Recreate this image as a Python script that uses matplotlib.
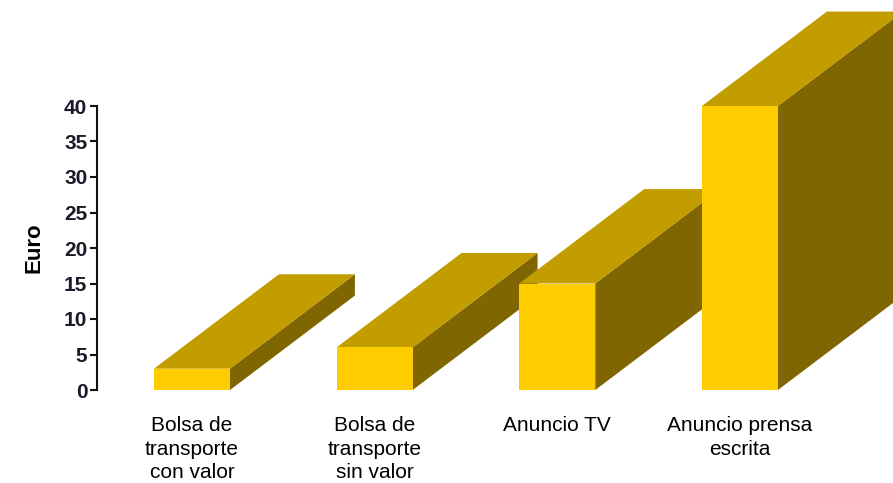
import matplotlib
matplotlib.use("Agg")
import matplotlib.pyplot as plt
from matplotlib.patches import Polygon

categories = ["Bolsa de\ntransporte\ncon valor", "Bolsa de\ntransporte\nsin valor",
              "Anuncio TV", "Anuncio prensa\nescrita"]
values = [3, 6, 15, 40]
yticks = [0, 5, 10, 15, 20, 25, 30, 35, 40]

FRONT = "#FFCC00"
TOP = "#C29D00"
SIDE = "#806600"

plt.rcParams['font.family'] = ['Liberation Sans', 'DejaVu Sans']

fig = plt.figure(figsize=(8.93, 4.83), dpi=100)
ax = fig.add_axes([97/893, 93/483, 796/893, 284/483])
ax.set_xlim(-0.52, 3.838)
ax.set_ylim(0, 40)

width = 0.416
dx = 0.684
dy = 13.3

for i, v in enumerate(values):
    x0 = i - width/2
    x1 = i + width/2
    side = Polygon([(x1, 0), (x1, v), (x1+dx, v+dy), (x1+dx, dy)], closed=True,
                   facecolor=SIDE, edgecolor='none', clip_on=False, zorder=2+i*3)
    top = Polygon([(x0, v), (x1, v), (x1+dx, v+dy), (x0+dx, v+dy)], closed=True,
                  facecolor=TOP, edgecolor='none', clip_on=False, zorder=2+i*3+1)
    ax.add_patch(side)
    ax.add_patch(top)
    ax.bar(i, v, width=width, color=FRONT, edgecolor='none', clip_on=False, zorder=2+i*3+2)

for s in ['top', 'right', 'bottom']:
    ax.spines[s].set_visible(False)
ax.spines['left'].set_bounds(0, 40)
ax.spines['left'].set_linewidth(1.5)
ax.spines['left'].set_color('#111111')

ax.set_yticks(yticks)
ax.set_yticklabels([str(t) for t in yticks], fontsize=15, fontweight='bold', color='#1a1a2a')
ax.tick_params(axis='y', direction='out', length=5, width=1.5, pad=2, color='#111111')

ax.set_xticks(range(len(categories)))
ax.set_xticklabels(categories, fontsize=15, linespacing=1.3)
ax.tick_params(axis='x', length=0, pad=19)

ax.set_ylabel("Euro", fontsize=16, fontweight='bold', labelpad=14)

fig.savefig("out.png", dpi=100)
